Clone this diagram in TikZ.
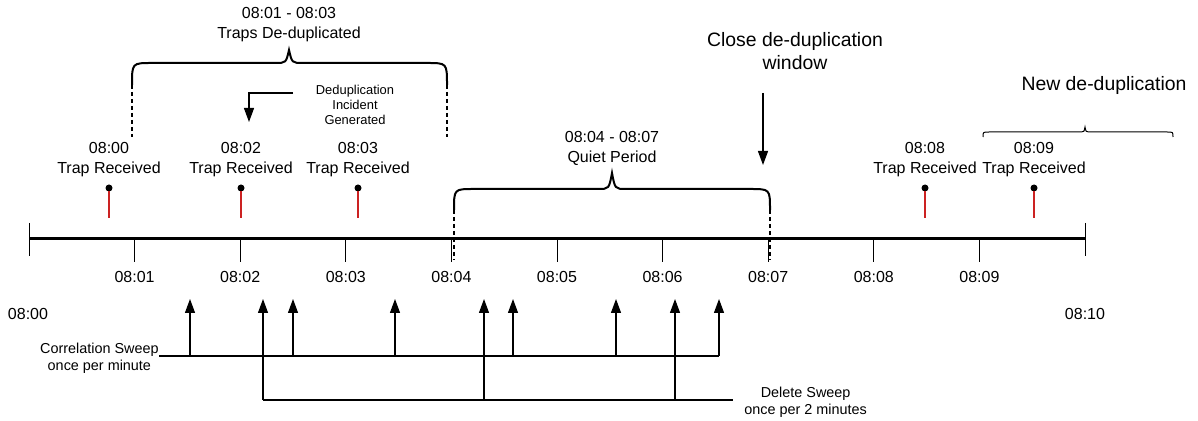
\documentclass[tikz,border=0pt]{standalone}
\usepackage{fontspec}
\setmainfont{Liberation Sans}
\usetikzlibrary{arrows.meta, positioning}
\definecolor{trapred}{HTML}{CC2222}

\begin{document}
\begin{tikzpicture}[x=0.5pt,y=-0.5pt,
  lbl/.style={font=\fontsize{8}{10}\selectfont, align=center, inner sep=0pt},
  biglbl/.style={font=\fontsize{9.7}{11.5}\selectfont, align=center, inner sep=0pt},
  sweeplbl/.style={font=\fontsize{7.2}{8.3}\selectfont, align=center, inner sep=0pt},
  smalllbl/.style={font=\fontsize{6.45}{7.5}\selectfont, align=center, inner sep=0pt},
  tick/.style={line width=0.5pt},
  trapline/.style={draw=trapred, line width=0.6pt},
  sweeparrow/.style={line width=0.6pt, -{Triangle[length=7pt,width=5pt]}},
  bracepath/.style={line width=1pt},
  guide/.style={line width=0.6pt, dash pattern=on 2pt off 1.5pt}]
\useasboundingbox (0,0) rectangle (1198,421);

% time axis
\draw[line width=1.5pt] (29,239) -- (1085,239);
\draw[tick] (29,223) -- (29,256);
\draw[tick] (1085,223) -- (1085,256);
\foreach \m in {1,...,9} {
  \draw[tick] ({29+105.6*\m},239) -- ++(0,23);
  \node[lbl] (min\m) at ({29+105.6*\m},277) {08:0\m};
}
\node[lbl] (start) at (28,314) {08:00};
\node[lbl] (stop) at (1085,314) {08:10};

% traps
\foreach \x/\t [count=\i] in {109/08:00, 241/08:02, 358/08:03, 925/08:08, 1034/08:09} {
  \fill (\x,188) circle (3.5);
  \draw[trapline] (\x,191) -- (\x,218);
  \node[lbl] (trap\i) at (\x,160) {\t\\Trap Received};
}

% de-duplication window
\draw[bracepath] (132,85) .. controls (132,63) .. (152,63) -- (275,63)
  .. controls (286,63) .. (289,50) .. controls (292,63) .. (303,63)
  -- (427,63) .. controls (447,63) .. (447,85);
\draw[guide] (132,85) -- (132,137);
\draw[guide] (447,85) -- (447,137);
\node[lbl] (dedup) at (289,25) {08:01 - 08:03\\Traps De-duplicated};

\node[smalllbl] (incident) at (355,105) {Deduplication\\Incident\\Generated};
\coordinate (incfrom) at (293,93);
\coordinate (incto) at (249,122);
\draw[sweeparrow] (incfrom) -| (incto);

% quiet period
\draw[bracepath] (454,210) .. controls (454,189) .. (474,189) -- (598,189)
  .. controls (609,189) .. (612,173) .. controls (615,189) .. (626,189)
  -- (750,189) .. controls (770,189) .. (770,210);
\draw[guide] (454,210) -- (454,260);
\draw[guide] (770,210) -- (770,260);
\node[lbl] (quiet) at (612,148) {08:04 - 08:07\\Quiet Period};

\node[biglbl] (close) at (795,51) {Close de-duplication\\window};
\coordinate (closefrom) at (763,93);
\coordinate (closeto) at (763,165);
\draw[sweeparrow] (closefrom) -- (closeto);

% next window
\node[biglbl] (newdedup) at (1104,85) {New de-duplication};
\draw[line width=0.5pt] (983,137) .. controls (983,132) .. (989,132) -- (1081,132)
  .. controls (1084,132) .. (1085,127) .. controls (1086,132) .. (1089,132)
  -- (1167,132) .. controls (1173,132) .. (1173,137);

% sweeps
\node[sweeplbl, anchor=east] (corr) at (159,358) {Correlation Sweep\\once per minute};
\coordinate (corrend) at (719,356);
\draw[line width=0.6pt] (corr.east |- corrend) -- (corrend);
\foreach \x in {190,293,395,513,616,719}
  \draw[sweeparrow] (\x,356) -- (\x,299);

\node[sweeplbl, anchor=west] (delsweep) at (744,402) {Delete Sweep\\once per 2 minutes};
\coordinate (delstart) at (263,400);
\coordinate (delend) at (733,400);
\draw[line width=0.6pt] (delstart) -- (delend);
\foreach \x in {263,484,675}
  \draw[sweeparrow] (\x,400) -- (\x,299);
\end{tikzpicture}
\end{document}
